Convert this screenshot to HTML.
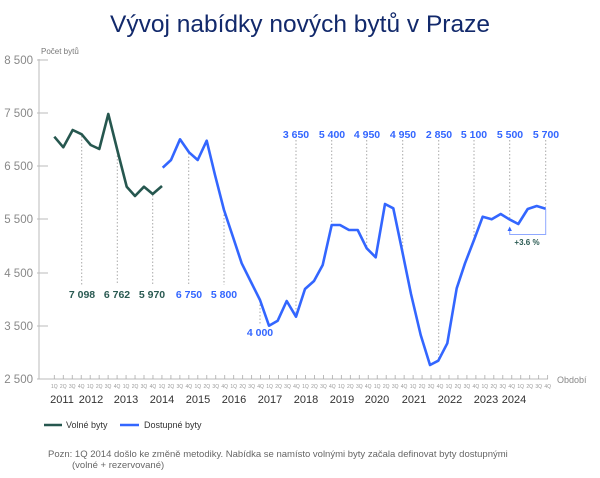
<!DOCTYPE html>
<html><head><meta charset="utf-8"><style>
html,body{margin:0;padding:0;background:#fff;width:600px;height:478px;overflow:hidden}
svg{display:block;font-family:"Liberation Sans",sans-serif}
</style></head><body>
<svg width="600" height="478" viewBox="0 0 600 478" xmlns="http://www.w3.org/2000/svg">
<text x="300" y="32" text-anchor="middle" font-size="24.5" fill="#12296b">Vývoj nabídky nových bytů v Praze</text>
<text x="41" y="54" font-size="8" fill="#777">Počet bytů</text>
<g font-size="11.5" fill="#888" text-anchor="end">
<text x="33" y="64">8 500</text><text x="33" y="117">7 500</text><text x="33" y="170">6 500</text>
<text x="33" y="223">5 500</text><text x="33" y="277">4 500</text><text x="33" y="330">3 500</text><text x="33" y="383">2 500</text>
</g>
<g stroke="#bbb" stroke-width="1">
<line x1="39" y1="59" x2="39" y2="379"/>
<line x1="37" y1="60" x2="48" y2="60"/><line x1="37" y1="113" x2="48" y2="113"/><line x1="37" y1="166" x2="48" y2="166"/>
<line x1="37" y1="219" x2="48" y2="219"/><line x1="37" y1="273" x2="48" y2="273"/><line x1="37" y1="326" x2="48" y2="326"/>
<line x1="37" y1="379" x2="548" y2="379"/>
</g>
<g id="ticks" stroke="#aaa" stroke-width="0.8"></g>
<g id="ql" font-size="5" fill="#999"></g>
<g font-size="11" fill="#333" text-anchor="middle">
<text x="62" y="403">2011</text><text x="91" y="403">2012</text><text x="126" y="403">2013</text><text x="162" y="403">2014</text>
<text x="198" y="403">2015</text><text x="234" y="403">2016</text><text x="270" y="403">2017</text><text x="306" y="403">2018</text>
<text x="342" y="403">2019</text><text x="377" y="403">2020</text><text x="414" y="403">2021</text><text x="450" y="403">2022</text>
<text x="486" y="403">2023</text><text x="514" y="403">2024</text>
</g>
<text x="557" y="383" font-size="9" fill="#888">Období</text>
<g stroke="#aaa" stroke-width="1" stroke-dasharray="1.5,2">
<line x1="81.7" y1="136" x2="81.7" y2="285"/><line x1="117.3" y1="152" x2="117.3" y2="285"/><line x1="152.7" y1="195" x2="152.7" y2="285"/>
<line x1="188.7" y1="153" x2="188.7" y2="285"/><line x1="224" y1="211" x2="224" y2="285"/><line x1="260" y1="301" x2="260" y2="324"/>
<line x1="296" y1="140" x2="296" y2="315"/><line x1="331.7" y1="140" x2="331.7" y2="224"/><line x1="366.7" y1="140" x2="366.7" y2="247"/>
<line x1="402.7" y1="140" x2="402.7" y2="250"/><line x1="438.7" y1="140" x2="438.7" y2="360"/><line x1="474" y1="140" x2="474" y2="239"/>
<line x1="509.7" y1="140" x2="509.7" y2="218"/><line x1="545.7" y1="140" x2="545.7" y2="207"/>
</g>
<g font-size="10.5" font-weight="bold" text-anchor="middle">
<g fill="#2a5a52"><text x="82" y="298">7 098</text><text x="117" y="298">6 762</text><text x="152" y="298">5 970</text></g>
<g fill="#3366ff"><text x="189" y="298">6 750</text><text x="224" y="298">5 800</text><text x="260" y="336">4 000</text>
<text x="296" y="138">3 650</text><text x="332" y="138">5 400</text><text x="367" y="138">4 950</text><text x="403" y="138">4 950</text>
<text x="439" y="138">2 850</text><text x="474" y="138">5 100</text><text x="510" y="138">5 500</text><text x="546" y="138">5 700</text></g>
</g>
<polyline fill="none" stroke="#26574f" stroke-width="2.6" stroke-linejoin="round" points="54.3,136.7 63.3,147.3 72.7,130 81.7,134.3 90.7,145 99.3,149 108.3,114 117.3,150 126.7,186.7 135,196 144,186.7 152.7,194 162,186"/>
<polyline fill="none" stroke="#3366ff" stroke-width="2.6" stroke-linejoin="round" points="162.7,167.7 171,160 180,139.3 189,152.3 197.7,160 206.7,140.7 215,175 224,210 233,237 241.7,263.3 251,282 260,300 269,325.7 277.7,320.7 286.7,301 296,316.7 305,289 314,281 322.7,265 331.7,225 340,225 349,230 357.7,230 366.7,248.3 375.7,257.3 385,204 393.3,208.3 402,250 411,294 420.7,335 430,365 438.3,360.7 447.3,343.3 456.7,288.3 465,263.3 474,240 482.7,216.7 491.7,219.3 500.7,214 509.3,219.3 518.3,224 527.7,209 536.7,206 545.7,208.7"/>
<g stroke="#8fa8ff" stroke-width="1" fill="none">
<polyline points="509.7,230 509.7,234.5 545.7,234.5 545.7,209"/>
</g>
<polygon points="507.5,231 511.9,231 509.7,226.5" fill="#3366ff"/>
<text x="527" y="245" font-size="8" font-weight="bold" fill="#2a5a52" text-anchor="middle">+3.6 %</text>
<line x1="44" y1="425" x2="62" y2="425" stroke="#26574f" stroke-width="2.6"/>
<text x="66" y="428" font-size="9" fill="#333">Volné byty</text>
<line x1="120" y1="425" x2="139" y2="425" stroke="#3366ff" stroke-width="2.6"/>
<text x="144" y="428" font-size="9" fill="#333">Dostupné byty</text>
<text x="48" y="457" font-size="9.5" fill="#666">Pozn: 1Q 2014 došlo ke změně metodiky. Nabídka se namísto volnými byty začala definovat byty dostupnými</text>
<text x="72" y="468" font-size="9.5" fill="#666">(volné + rezervované)</text>
<script>
var t=document.getElementById('ticks'),q=document.getElementById('ql'),ns='http://www.w3.org/2000/svg';
for(var i=0;i<56;i++){var x=54.3+i*8.97;
var l=document.createElementNS(ns,'line');l.setAttribute('x1',x);l.setAttribute('x2',x);l.setAttribute('y1',375);l.setAttribute('y2',379);t.appendChild(l);
var s=document.createElementNS(ns,'text');s.setAttribute('x',x);s.setAttribute('y',388);s.setAttribute('text-anchor','middle');s.textContent=(i%4+1)+'Q';q.appendChild(s);}
</script>
</svg>
</body></html>
